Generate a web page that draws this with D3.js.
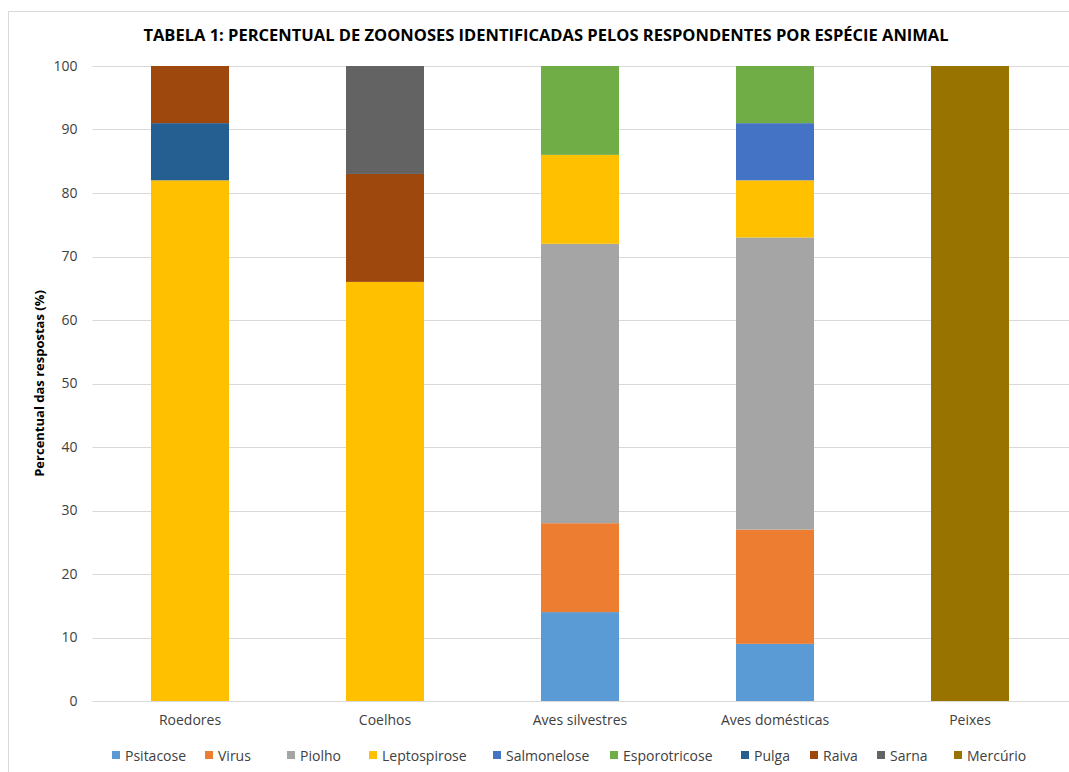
<!DOCTYPE html>
<html>
<head>
<meta charset="utf-8">
<script src="https://cdn.jsdelivr.net/npm/d3@7"></script>
<style>
  body { margin: 0; background: #fff; }
  text { font-family: "Open Sans", "Noto Sans", sans-serif; }
</style>
</head>
<body>
<svg width="1069" height="772"></svg>
<script>
// categories and series
const animais = ["Roedores", "Coelhos", "Aves silvestres", "Aves domésticas", "Peixes"];
const doencas = ["Psitacose", "Virus", "Piolho", "Leptospirose", "Salmonelose",
                 "Esporotricose", "Pulga", "Raiva", "Sarna", "Mercúrio"];
const cores = ["#5B9BD5", "#ED7D31", "#A5A5A5", "#FFC000", "#4472C4",
               "#70AD47", "#255E91", "#9E480E", "#636363", "#997300"];

const psitacose     = [0, 0, 14, 9, 0];
const virus         = [0, 0, 14, 18, 0];
const piolho        = [0, 0, 44, 46, 0];
const leptospirose  = [82, 66, 14, 9, 0];
const salmonelose   = [0, 0, 0, 9, 0];
const esporotricose = [0, 0, 14, 9, 0];
const pulga         = [9, 0, 0, 0, 0];
const raiva         = [9, 17, 0, 0, 0];
const sarna         = [0, 17, 0, 0, 0];
const mercurio      = [0, 0, 0, 0, 100];

const yTicks = [0, 10, 20, 30, 40, 50, 60, 70, 80, 90, 100];

const series = [psitacose, virus, piolho, leptospirose, salmonelose,
                esporotricose, pulga, raiva, sarna, mercurio];

const rows = animais.map((a, i) => {
    let r = { animal: a };
    doencas.forEach((d, j) => r[d] = series[j][i]);
    return r;
});

const svg = d3.select("svg");

// outer border of the chart area
svg.append("rect")
    .attr("x", 8.5).attr("y", 11.5)
    .attr("width", 1080).attr("height", 800)
    .attr("fill", "none").attr("stroke", "#d9d9d9");

const pLeft = 92.5, pRight = 1067.5, pTop = 66, pBottom = 701;

const x = d3.scaleBand()
    .domain(animais)
    .range([pLeft, pRight])
    .paddingInner(0.6)
    .paddingOuter(0.3);

const y = d3.scaleLinear()
    .domain([0, 100])
    .range([pBottom, pTop]);

// gridlines
svg.append("g")
    .selectAll("line")
    .data(yTicks)
    .enter()
    .append("line")
    .attr("x1", pLeft).attr("x2", 1069)
    .attr("y1", d => Math.round(y(d)) + 0.5)
    .attr("y2", d => Math.round(y(d)) + 0.5)
    .attr("stroke", "#d9d9d9");

const stack = d3.stack().keys(doencas)(rows);

svg.append("g")
    .selectAll("g")
    .data(stack)
    .enter()
    .append("g")
    .attr("fill", (d, i) => cores[i])
    .selectAll("rect")
    .data(d => d)
    .enter()
    .append("rect")
    .attr("x", d => x(d.data.animal))
    .attr("width", x.bandwidth())
    .attr("y", d => y(d[1]))
    .attr("height", d => y(d[0]) - y(d[1]));

// y axis labels
const yAxis = svg.append("g")
    .attr("transform", `translate(${pLeft - 8},0)`)
    .call(d3.axisLeft(y).tickValues(yTicks).tickSize(0).tickPadding(7));
yAxis.select(".domain").remove();
yAxis.selectAll("text")
    .attr("font-size", 14)
    .attr("fill", "#404040")
    .style("font-family", "'Open Sans', sans-serif");

// x axis labels
const xAxis = svg.append("g")
    .attr("transform", `translate(0,${pBottom})`)
    .call(d3.axisBottom(x).tickSize(0).tickPadding(14));
xAxis.select(".domain").remove();
xAxis.selectAll("text")
    .attr("font-size", 14)
    .attr("fill", "#404040")
    .style("font-family", "'Open Sans', sans-serif");

// title
svg.append("text")
    .attr("x", 546).attr("y", 41)
    .attr("text-anchor", "middle")
    .attr("font-size", 16.5)
    .attr("font-weight", "bold")
    .attr("fill", "#000")
    .text("TABELA 1: PERCENTUAL DE ZOONOSES IDENTIFICADAS PELOS RESPONDENTES POR ESPÉCIE ANIMAL");

// y title
svg.append("text")
    .attr("transform", `translate(44,${(pTop + pBottom) / 2}) rotate(-90)`)
    .attr("text-anchor", "middle")
    .attr("font-size", 13)
    .attr("font-weight", "bold")
    .attr("fill", "#000")
    .text("Percentual das respostas (%)");

// legend
const legendX = [112, 205, 287, 369, 493, 610, 741, 810, 877, 954];
const legend = svg.append("g")
    .selectAll("g")
    .data(doencas)
    .enter()
    .append("g")
    .attr("transform", (d, i) => `translate(${legendX[i]},756)`);
legend.append("rect")
    .attr("x", 0).attr("y", -5)
    .attr("width", 8).attr("height", 8)
    .attr("fill", (d, i) => cores[i]);
legend.append("text")
    .attr("x", 13).attr("y", 0)
    .attr("dy", "0.35em")
    .attr("font-size", 14)
    .attr("fill", "#404040")
    .text(d => d);
</script>
</body>
</html>
